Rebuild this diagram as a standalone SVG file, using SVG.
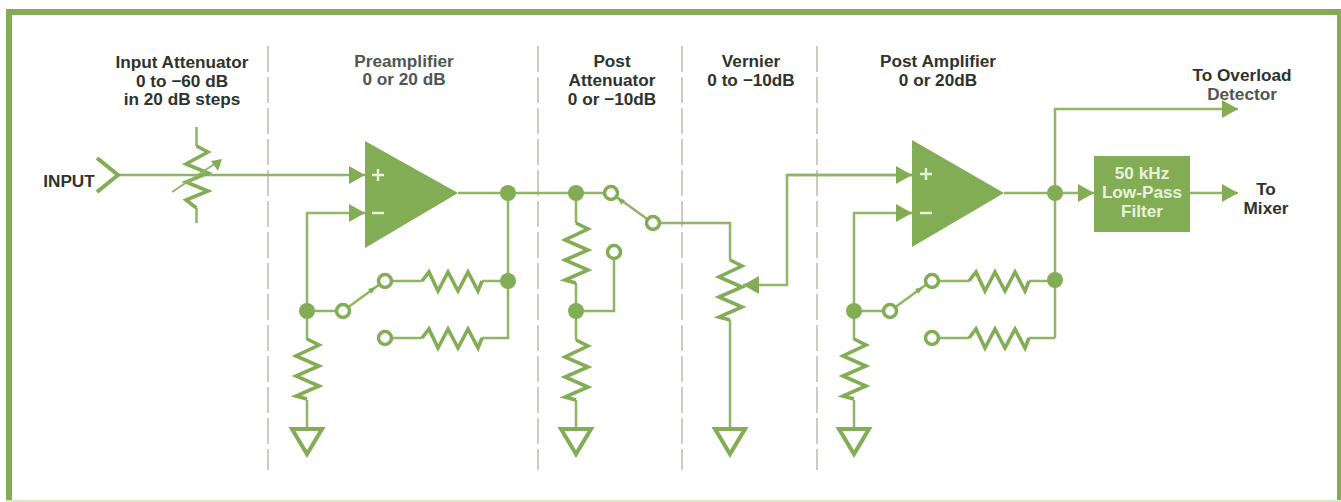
<svg xmlns="http://www.w3.org/2000/svg" width="1341" height="502" viewBox="0 0 1341 502">
<style>
.w{fill:none;stroke:#8fb565;stroke-width:2.500}
.r{fill:none;stroke:#82ad55;stroke-width:3.600;stroke-linejoin:miter}
.d{fill:#82ad55}
.c{fill:#fff;stroke:#82ad55;stroke-width:3.500}
.dash{stroke:#c6c6bc;stroke-width:1.800;stroke-dasharray:26 5;fill:none}
text{font-family:"Liberation Sans",Arial,sans-serif;font-weight:700;font-size:17.2px;fill:#2e332e;text-anchor:middle}
.g{fill:#4f5650}
.l{fill:#e9f2dd}
.f{fill:#85ab55}
.sign{stroke:#e6f0d8;stroke-width:2.400}
</style>
<defs>
<marker id="a" markerUnits="userSpaceOnUse" markerWidth="16" markerHeight="18" refX="16" refY="9" orient="auto"><path d="M0 0L16 9L0 18Z" fill="#82ad55"/></marker>
<path id="rv" class="r" d="M0 0L12 6L-11 17L12 27L-11 37L12 47L-11 57L0 60"/>
<path id="rh" class="r" d="M0 0L7 -9L16 10L26 -9L36 10L46 -9L56 10L60 0"/>
<path id="gnd" fill="none" stroke="#82ad55" stroke-width="4" d="M-15 0H15L0 25Z"/>
<path id="barb" fill="#82ad55" d="M-4 -3L4 0L-4 3Z"/>
</defs>
<g id="frame">
<rect class="f" x="6" y="9" width="1335" height="6"/>
<rect class="f" x="6" y="9" width="6" height="493"/>
<rect class="f" x="1337" y="9" width="4" height="493"/>
<rect x="6" y="500" width="1335" height="2" fill="#d9e8c6"/>
</g>
<g id="dividers">
<path class="dash" d="M268 46V470"/>
<path class="dash" d="M538 46V470"/>
<path class="dash" d="M682 46V470"/>
<path class="dash" d="M817 46V470"/>
</g>
<g id="connectors">
<path class="w" d="M119 175H365" marker-end="url(#a)"/>
<path class="w" d="M307 340V213H365" marker-end="url(#a)"/>
<path class="w" d="M458 193H611"/>
<path class="w" d="M508 193V338H482"/>
<path class="w" d="M307 311H343"/>
<path class="w" d="M385 281H422"/>
<path class="w" d="M482 281H508"/>
<path class="w" d="M385 338H422"/>
<path class="w" d="M307 400V429"/>
<path class="w" d="M576 193V223"/>
<path class="w" d="M576 283V340"/>
<path class="w" d="M576 400V429"/>
<path class="w" d="M576 311H614V252"/>
<path class="w" d="M653 223H730V260"/>
<path class="w" d="M730 320V429"/>
<path class="w" d="M912 175H787V285H743" marker-end="url(#a)"/>
<path class="w" d="M787 175H912" marker-end="url(#a)"/>
<path class="w" d="M854 340V213H912" marker-end="url(#a)"/>
<path class="w" d="M1004 193H1094" marker-end="url(#a)"/>
<path class="w" d="M1055 338V109H1238" marker-end="url(#a)"/>
<path class="w" d="M1190 193H1238" marker-end="url(#a)"/>
<path class="w" d="M854 311H890"/>
<path class="w" d="M932 281H969"/>
<path class="w" d="M1029 281H1055"/>
<path class="w" d="M932 338H969"/>
<path class="w" d="M1029 338H1055"/>
<path class="w" d="M854 400V429"/>
<path class="w" d="M343 311L380 284"/>
<path class="w" d="M611 193L650 221"/>
<path class="w" d="M890 311L927 284"/>
<use href="#barb" transform="translate(373,289) rotate(-36)"/>
<use href="#barb" transform="translate(620,200) rotate(216)"/>
<use href="#barb" transform="translate(920,289) rotate(-36)"/>
</g>
<g id="input"><path fill="none" stroke="#82ad55" stroke-width="4" d="M97 158L118 175L97 192"/><text x="69" y="187">INPUT</text></g>
<g id="input-attenuator">
<path class="w" d="M196.500 127V146M196.500 208V223"/>
<path class="r" d="M196.500 146L208 152L186 164L208 173L186 182L208 191L186 200L196.500 208"/>
<path fill="none" stroke="#8fb565" stroke-width="2" d="M172 192L216 163"/>
<path fill="#82ad55" d="M222 159L211 161L218 171Z"/>
<text x="182" y="68">Input Attenuator</text><text x="182" y="87">0 to −60 dB</text><text x="182" y="105">in 20 dB steps</text>
</g>
<g id="preamplifier">
<path class="d" d="M365 141L458 193L365 248Z"/>
<path class="sign" d="M372 175H384M378 169V181M372 213H384"/>
<text class="g" x="404" y="67">Preamplifier</text><text class="g" x="404" y="85">0 or 20 dB</text>
<use href="#rh" x="422" y="281"/><use href="#rh" x="422" y="338"/>
<use href="#rv" x="307" y="339"/>
<use href="#gnd" x="307" y="429"/>
<circle class="d" cx="508" cy="193" r="8"/><circle class="d" cx="508" cy="281" r="8"/><circle class="d" cx="307" cy="311" r="8"/>
<circle class="c" cx="343" cy="311" r="6.500"/><circle class="c" cx="385" cy="281" r="6.500"/><circle class="c" cx="385" cy="338" r="6.500"/>
</g>
<g id="post-attenuator">
<text x="612" y="67">Post</text><text x="612" y="86">Attenuator</text><text x="612" y="105">0 or −10dB</text>
<use href="#rv" x="576" y="223"/><use href="#rv" x="576" y="340"/>
<use href="#gnd" x="576" y="429"/>
<circle class="d" cx="576" cy="193" r="8"/><circle class="d" cx="576" cy="311" r="8"/>
<circle class="c" cx="611" cy="193" r="6.500"/><circle class="c" cx="653" cy="223" r="6.500"/><circle class="c" cx="614" cy="252" r="6.500"/>
</g>
<g id="vernier">
<text x="751" y="67">Vernier</text><text x="751" y="86">0 to −10dB</text>
<use href="#rv" x="730" y="260"/><use href="#gnd" x="730" y="429"/>
</g>
<g id="post-amplifier">
<path class="d" d="M912 140L1004 193L912 247Z"/>
<path class="sign" d="M920 174H932M926 168V180M920 213H932"/>
<text x="938" y="67">Post Amplifier</text><text x="938" y="86">0 or 20dB</text>
<use href="#rh" x="969" y="281"/><use href="#rh" x="969" y="338"/>
<use href="#rv" x="854" y="339"/><use href="#gnd" x="854" y="429"/>
<circle class="d" cx="1055" cy="193" r="8"/><circle class="d" cx="1055" cy="280" r="8"/><circle class="d" cx="854" cy="311" r="8"/>
<circle class="c" cx="890" cy="311" r="6.500"/><circle class="c" cx="932" cy="281" r="6.500"/><circle class="c" cx="932" cy="338" r="6.500"/>
</g>
<g id="filter">
<rect class="d" x="1094" y="156" width="96" height="76"/>
<text class="l" x="1142" y="179">50 kHz</text><text class="l" x="1142" y="198">Low-Pass</text><text class="l" x="1142" y="217">Filter</text>
</g>
<g id="outputs">
<text x="1242" y="81">To Overload</text><text class="g" x="1242" y="100">Detector</text>
<text x="1266" y="195">To</text><text x="1266" y="214">Mixer</text>
</g>
</svg>
